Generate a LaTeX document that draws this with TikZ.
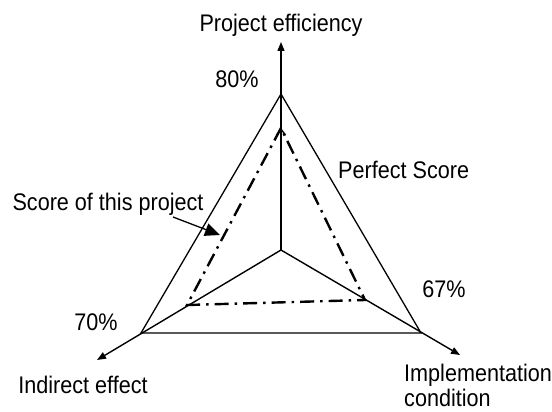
\documentclass[tikz,border=0pt]{standalone}
\usepackage{fontspec}
\setmainfont[FakeStretch=0.9]{Liberation Sans}
\usetikzlibrary{arrows.meta}

\begin{document}
\begin{tikzpicture}[x=1pt,y=-1pt,
  every node/.style={font=\fontsize{24}{30}\selectfont, inner sep=0pt},
  axisline/.style={line width=1.4pt},
  frameline/.style={line width=1.3pt},
  scoreline/.style={line width=2.4pt, dash pattern=on 14pt off 6pt on 2.5pt off 6pt}]
\useasboundingbox (0,0) rectangle (552,412);
% axes
\coordinate (o) at (281,250);
\coordinate (pe) at (281,94);
\coordinate (ie) at (141,333);
\coordinate (ic) at (421,333);
\coordinate (petip) at (281,42);
\coordinate (ietip) at (97,360);
\coordinate (ictip) at (460,355);
\draw[axisline,-{Triangle[length=9pt,width=7pt]}] (o) -- (petip);
\draw[axisline,-{Triangle[length=9pt,width=7pt]}] (o) -- (ietip);
\draw[axisline,-{Triangle[length=9pt,width=7pt]}] (o) -- (ictip);
% perfect score
\draw[frameline] (pe) -- (ie) -- (ic) -- cycle;
% score of this project
\coordinate (spe) at (281,128);
\coordinate (sie) at (187,305);
\coordinate (sic) at (365,300);
\draw[axisline,-{Straight Barb[length=6pt,width=9pt]}] (o) -- (spe);
\draw[scoreline] (spe) -- (sie) -- (sic) -- cycle;
% labels
\node[anchor=base] (pelabel) at (281,32) {Project efficiency};
\node[anchor=base] (pepct) at (237,88) {80\%};
\node[anchor=base west] (perfect) at (338,178) {Perfect Score};
\node[anchor=base] (score) at (108,210) {Score of this project};
\node[anchor=base] (iepct) at (96,330) {70\%};
\node[anchor=base] (icpct) at (444,297) {67\%};
\node[anchor=base] (ielabel) at (83,393) {Indirect effect};
\node[anchor=base west] (iclabel) at (404,381) {Implementation};
\node[anchor=base west] (iclabel2) at (404,406) {condition};
\coordinate (scorearrow) at (220,235);
\draw[line width=1.3pt,-{Triangle[length=15pt,width=13pt]}] (173,217) -- (scorearrow);
\end{tikzpicture}
\end{document}
